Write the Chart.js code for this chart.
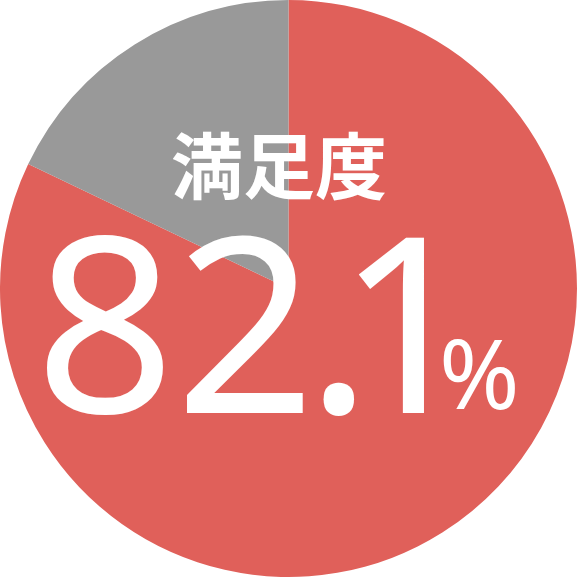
<!DOCTYPE html>
<html>
<head>
<meta charset="utf-8">
<script src="https://cdn.jsdelivr.net/npm/chart.js@4"></script>
<style>
    html, body { margin: 0; padding: 0; background: #fff; }
    #wrap { width: 577px; height: 577px; }
</style>
</head>
<body>
<div id="wrap"><canvas id="pie"></canvas></div>
<script>
const labels = ['満足', 'その他'];
const values = [82.1, 17.9];
const colors = ['#E0605A', '#999999'];
const title = '満足度';

// put a glyph so its ink starts at left
function glyphAt(ctx, s, left, base) {
    const m = ctx.measureText(s);
    ctx.fillText(s, left + m.actualBoundingBoxLeft, base);
}

// center label drawn on top of the pie
const centerText = {
    id: 'centerText',
    afterDraw(chart) {
        const ctx = chart.ctx;
        const meta = chart.getDatasetMeta(0).data[0];
        const cy = meta.y;
        ctx.save();
        ctx.fillStyle = '#fff';
        ctx.textBaseline = 'alphabetic';
        ctx.textAlign = 'left';

        ctx.font = 'bold 72px "Noto Sans CJK JP"';
        const tm = ctx.measureText(title);
        // ink bottom of the title at y=201
        ctx.fillText(title, 172 + tm.actualBoundingBoxLeft, 201 - tm.actualBoundingBoxDescent);

        const num = values[0].toFixed(1);
        const parts = num.split('.');
        ctx.font = '245px "Noto Sans"';
        const base = cy + 124;
        glyphAt(ctx, parts[0], 47, base);
        glyphAt(ctx, '.', 323, base);
        glyphAt(ctx, parts[1], 358, base);

        ctx.font = '97px "Noto Sans"';
        glyphAt(ctx, '%', 443, base - 4);
        ctx.restore();
    }
};

new Chart(document.getElementById('pie'), {
    type: 'pie',
    data: {
        labels: labels,
        datasets: [{
            data: values,
            backgroundColor: colors,
            borderWidth: 0
        }]
    },
    options: {
        responsive: true,
        maintainAspectRatio: false,
        animation: false,
        layout: { padding: 0 },
        plugins: {
            legend: { display: false },
            tooltip: { enabled: false }
        }
    },
    plugins: [centerText]
});
</script>
</body>
</html>
